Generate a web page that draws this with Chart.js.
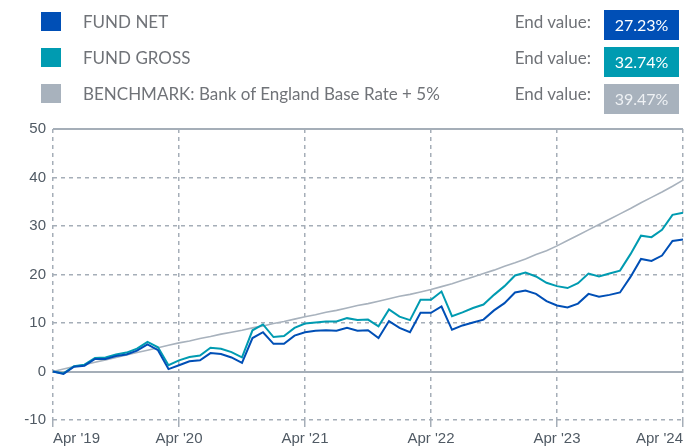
<!DOCTYPE html>
<html>
<head>
<meta charset="utf-8">
<script src="https://cdn.jsdelivr.net/npm/chart.js@4.4.1/dist/chart.umd.min.js"></script>
<style>
  body { margin: 0; background: #fff; }
  #wrap { position: relative; width: 689px; height: 446px; overflow: hidden; font-family: Lato, "Noto Sans", sans-serif; }
  #grafica { position: absolute; left: 0; top: 0; }
  .sq { position: absolute; left: 41px; width: 20px; height: 19px; }
  .nombre { position: absolute; left: 83px; font-size: 17px; color: #707378; line-height: 20px; white-space: nowrap; }
  .fin { position: absolute; right: 98px; font-size: 17px; color: #707378; line-height: 20px; white-space: nowrap; }
  .caja { position: absolute; left: 604px; width: 75px; height: 30px; line-height: 30px; text-align: center; color: #fff; font-size: 16px; }
</style>
</head>
<body>
<div id="wrap">
  <canvas id="grafica" width="689" height="446"></canvas>
  <div id="leyenda"></div>
</div>
<script>
// datos (mensual, abr 2019 - abr 2024)
const meses = [
  "Apr 19","May 19","Jun 19","Jul 19","Aug 19","Sep 19","Oct 19","Nov 19","Dec 19","Jan 20","Feb 20","Mar 20",
  "Apr 20","May 20","Jun 20","Jul 20","Aug 20","Sep 20","Oct 20","Nov 20","Dec 20","Jan 21","Feb 21","Mar 21",
  "Apr 21","May 21","Jun 21","Jul 21","Aug 21","Sep 21","Oct 21","Nov 21","Dec 21","Jan 22","Feb 22","Mar 22",
  "Apr 22","May 22","Jun 22","Jul 22","Aug 22","Sep 22","Oct 22","Nov 22","Dec 22","Jan 23","Feb 23","Mar 23",
  "Apr 23","May 23","Jun 23","Jul 23","Aug 23","Sep 23","Oct 23","Nov 23","Dec 23","Jan 24","Feb 24","Mar 24",
  "Apr 24"
];
const etiquetas = ["Apr '19","Apr '20","Apr '21","Apr '22","Apr '23","Apr '24"];

const fundNet = [
  0, -0.5, 1.0, 1.2, 2.6, 2.6, 3.2, 3.5, 4.3, 5.6, 4.4, 0.5,
  1.3, 2.1, 2.3, 3.8, 3.6, 2.9, 1.8, 6.9, 8.1, 5.7, 5.7, 7.4,
  8.1, 8.4, 8.5, 8.4, 9.0, 8.4, 8.5, 6.9, 10.4, 9.0, 8.1, 12.1,
  12.1, 13.4, 8.6, 9.5, 10.1, 10.7, 12.6, 14.1, 16.3, 16.7, 16.0, 14.5,
  13.6, 13.2, 14.0, 16.0, 15.4, 15.8, 16.3, 19.5, 23.2, 22.8, 23.9, 26.9,
  27.23
];
const fundGross = [
  0, -0.4, 1.1, 1.4, 2.8, 2.9, 3.5, 3.9, 4.7, 6.1, 5.0, 1.3,
  2.3, 3.0, 3.3, 4.9, 4.7, 4.0, 2.9, 8.5, 9.7, 7.1, 7.3, 9.0,
  9.9, 10.1, 10.3, 10.3, 11.0, 10.6, 10.7, 9.3, 12.8, 11.3, 10.6, 14.8,
  14.8, 16.5, 11.4, 12.2, 13.1, 13.8, 15.8, 17.6, 19.8, 20.4, 19.6, 18.3,
  17.6, 17.2, 18.2, 20.2, 19.6, 20.2, 20.8, 24.2, 28.0, 27.7, 29.2, 32.3,
  32.74
];
const benchmark = [
  0, 0.5, 1.0, 1.4, 1.9, 2.4, 2.9, 3.4, 3.9, 4.4, 4.9, 5.4,
  5.9, 6.3, 6.8, 7.2, 7.7, 8.1, 8.5, 9.0, 9.4, 9.9, 10.3, 10.8,
  11.3, 11.7, 12.2, 12.6, 13.1, 13.6, 14.0, 14.5, 15.0, 15.5, 15.9, 16.4,
  16.9, 17.5, 18.1, 18.8, 19.5, 20.2, 20.9, 21.7, 22.4, 23.2, 24.1, 24.9,
  25.9, 27.0, 28.1, 29.2, 30.3, 31.4, 32.5, 33.6, 34.8, 35.9, 37.0, 38.2,
  39.47
];

const nombres = ["FUND NET", "FUND GROSS", "BENCHMARK: Bank of England Base Rate + 5%"];
const finales = ["27.23%", "32.74%", "39.47%"];
const colores = ["#004fb6", "#009bb1", "#a8b2bd"];
const colorTextoCaja = ["#ffffff", "#ffffff", "#eef1f4"];

const gris = '#a5aeb8';

// leyenda
let leyenda = document.getElementById('leyenda');
let tops = [12, 48, 84];
let cajas = [10, 47, 84];
for (var i = 0; i < 3; i++) {
  leyenda.innerHTML +=
    '<div class="sq" style="top:' + tops[i] + 'px;background:' + colores[i] + '"></div>' +
    '<div class="nombre" style="top:' + tops[i] + 'px">' + nombres[i] + '</div>' +
    '<div class="fin" style="top:' + tops[i] + 'px">End value:</div>' +
    '<div class="caja" style="top:' + cajas[i] + 'px;background:' + colores[i] + ';color:' + colorTextoCaja[i] + '">' + finales[i] + '</div>';
}

const ctx = document.getElementById('grafica');

const grafica = new Chart(ctx, {
  type: 'line',
  data: {
    labels: meses,
    datasets: [
      { label: nombres[0], data: fundNet, borderColor: colores[0], borderWidth: 2, pointRadius: 0, tension: 0 },
      { label: nombres[1], data: fundGross, borderColor: colores[1], borderWidth: 2, pointRadius: 0, tension: 0 },
      { label: nombres[2], data: benchmark, borderColor: colores[2], borderWidth: 1.6, pointRadius: 0, tension: 0 }
    ]
  },
  options: {
    responsive: false,
    animation: false,
    layout: { padding: { top: 129, right: 6, left: 0, bottom: 0 } },
    plugins: { legend: { display: false }, tooltip: { enabled: false } },
    scales: {
      x: {
        afterFit: function (s) { s.height = 26; },
        grid: {
          color: function (c) { return c.index % 12 === 0 ? gris : 'transparent'; },
          tickColor: function (c) { return c.index % 12 === 0 ? gris : 'transparent'; },
          lineWidth: 1.5,
          tickWidth: 1.5,
          tickLength: 7
        },
        border: { display: false, dash: [4, 4] },
        ticks: {
          autoSkip: false,
          maxRotation: 0,
          align: 'inner',
          padding: 3,
          color: '#505a64',
          font: { family: 'Liberation Sans, Arial, sans-serif', size: 15 },
          callback: function (v, i) { return i % 12 === 0 ? etiquetas[i / 12] : ''; }
        }
      },
      y: {
        min: -10,
        max: 50,
        afterFit: function (s) { s.width = 53; },
        grid: {
          color: gris,
          lineWidth: function (c) { return (c.tick && (c.tick.value === 0 || c.tick.value === 50)) ? 2 : 1.5; },
          drawTicks: false
        },
        border: {
          display: false,
          dash: function (c) { return (c.tick && (c.tick.value === 0 || c.tick.value === 50)) ? [] : [4, 4]; }
        },
        ticks: {
          stepSize: 10,
          padding: 7,
          color: '#505a64',
          font: { family: 'Liberation Sans, Arial, sans-serif', size: 15 }
        }
      }
    }
  }
});
</script>
</body>
</html>
